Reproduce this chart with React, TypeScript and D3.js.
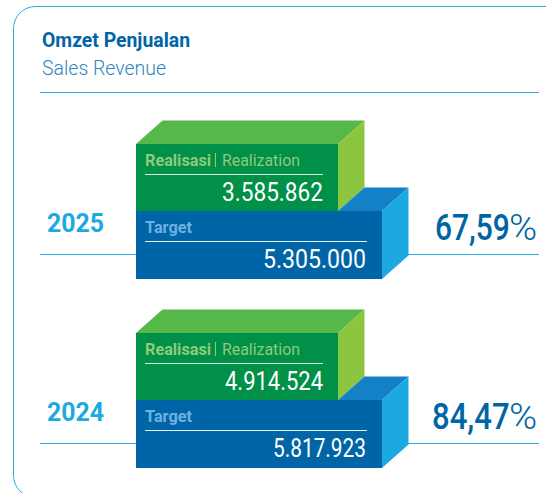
import React from "react";
import * as d3 from "d3";

const years = ["2025", "2024"];
const realization = [3585862, 4914524];
const target = [5305000, 5817923];
const achievement = [67.59, 84.47];

const WIDTH = 546;
const HEIGHT = 493;
const SANS = "Roboto, 'Noto Sans', sans-serif";

const C = {
  border: "#29abe2",
  title: "#0065a6",
  subtitle: "#2f86c0",
  year: "#1ca9e2",
  greenFront: "#009048",
  greenTop: "#57b84a",
  greenSide: "#8cc63f",
  blueFront: "#0065a6",
  blueTop: "#1480c6",
  blueSide: "#1ca9e2",
  greenLabel: "#8fcb7a",
  blueLabel: "#6fb0e2",
};

const locale = d3.formatLocale({ decimal: ",", thousands: ".", grouping: [3], currency: ["", ""] });
const fmtInt = locale.format(",d");
const fmtPct = locale.format(".2f");

// Row placement through a band-like point scale
const rowY = d3.scalePoint<string>().domain(years).range([0, 189]);
// Width of each stacked block is schematic (not value-proportional)
const blockX = d3.scaleOrdinal<string, number>().domain(["realization", "target"]).range([338, 382]);

const poly = (pts: [number, number][]) => {
  const p = d3.path();
  pts.forEach(([x, y], i) => (i ? p.lineTo(x, y) : p.moveTo(x, y)));
  p.closePath();
  return p.toString();
};

// Text fitted to the measured ink width of the reference
function T(props: {
  x: number; y: number; w: number; size: number; fill: string; weight?: number; anchor?: string; children: string;
}) {
  const { x, y, w, size, fill, weight = 400, anchor = "start", children } = props;
  return (
    <text
      x={x}
      y={y}
      fontFamily={SANS}
      fontSize={size}
      fontWeight={weight}
      fill={fill}
      textAnchor={anchor}
      textLength={w}
      lengthAdjust="spacingAndGlyphs"
    >
      {children}
    </text>
  );
}

// Horizontally scaled text, so the drawn box is the real box
function S(props: { x: number; y: number; sx: number; size: number; fill: string; weight?: number; children: string }) {
  const { x, y, sx, size, fill, weight = 400, children } = props;
  return (
    <text transform={`translate(${x},${y}) scale(${sx},1)`} fontFamily={SANS} fontSize={size} fontWeight={weight} fill={fill}>
      {children}
    </text>
  );
}

const realWidths = [101, 98];
const targetWidths = [103, 93];
const pctNumberX = [435, 432];
const pctNumberScale = [0.81, 0.84];

function Row({ i }: { i: number }) {
  const year = years[i];
  const dy = rowY(year) as number;
  const left = 136;
  const gr = blockX("realization");
  const br = blockX("target");
  const top = 144 + dy;
  const mid = 211 + dy;
  const bottom = 279 + dy;
  const ox = 26.5;
  const oy = 23.5;
  return (
    <g>
      <line x1={40} x2={left} y1={254.5 + dy} y2={254.5 + dy} stroke={C.border} strokeWidth={1} />
      <line x1={br + ox - 2} x2={539} y1={254.5 + dy} y2={254.5 + dy} stroke={C.border} strokeWidth={1} />

      <path d={poly([[left, top], [left + ox, top - oy], [gr + ox, top - oy], [gr, top]])} fill={C.greenTop} />
      <path d={poly([[gr, top], [gr + ox, top - oy], [gr + ox, mid - oy], [gr, mid]])} fill={C.greenSide} />
      <rect x={left} y={top} width={gr - left} height={mid - top} fill={C.greenFront} />

      <path d={poly([[gr, mid], [gr + ox, mid - oy], [br + ox, mid - oy], [br, mid]])} fill={C.blueTop} />
      <path d={poly([[br, mid], [br + ox, mid - oy], [br + ox, bottom - oy], [br, bottom]])} fill={C.blueSide} />
      <rect x={left} y={mid} width={br - left} height={bottom - mid} fill={C.blueFront} />

      <T x={145} y={166 + dy} w={66} size={17} weight={700} fill={C.greenLabel}>Realisasi</T>
      <rect x={215} y={153 + dy} width={1} height={14} fill={C.greenLabel} />
      <T x={222} y={166 + dy} w={78} size={17} weight={400} fill={C.greenLabel}>Realization</T>
      <line x1={145} x2={323} y1={174.5 + dy} y2={174.5 + dy} stroke="#ffffff" strokeOpacity={0.85} />
      <T x={323} y={201 + dy} w={realWidths[i]} size={25} anchor="end" weight={400} fill="#ffffff">{fmtInt(realization[i])}</T>

      <T x={145} y={233 + dy} w={47} size={17} weight={700} fill={C.blueLabel}>Target</T>
      <line x1={145} x2={367} y1={241.5 + dy} y2={241.5 + dy} stroke="#ffffff" strokeOpacity={0.9} />
      <T x={366} y={268 + dy} w={targetWidths[i]} size={25} anchor="end" weight={400} fill="#ffffff">{fmtInt(target[i])}</T>

      <T x={47} y={232 + dy} w={57} size={26} weight={700} fill={C.year}>{year}</T>
      <S x={pctNumberX[i]} y={240 + dy} sx={pctNumberScale[i]} size={37} weight={500} fill={C.title}>{fmtPct(achievement[i])}</S>
      <S x={509} y={240 + dy} sx={1.03} size={37} weight={300} fill={C.title}>%</S>
    </g>
  );
}

export default function App() {
  return (
    <svg
      width={WIDTH}
      height={HEIGHT}
      viewBox={`0 0 ${WIDTH} ${HEIGHT}`}
      style={{ position: "absolute", left: 0, top: 0, background: "#ffffff", display: "block" }}
    >
      <rect x={13.5} y={6.5} width={700} height={491} rx={22} ry={22} fill="none" stroke={C.border} strokeWidth={1} />
      <T x={42} y={47} w={148} size={21} weight={700} fill={C.title}>Omzet Penjualan</T>
      <T x={42} y={75} w={124} size={21} weight={300} fill={C.subtitle}>Sales Revenue</T>
      <line x1={40} x2={539} y1={92.5} y2={92.5} stroke={C.border} strokeWidth={1} />
      {years.map((_, i) => <Row key={years[i]} i={i} />)}
    </svg>
  );
}
